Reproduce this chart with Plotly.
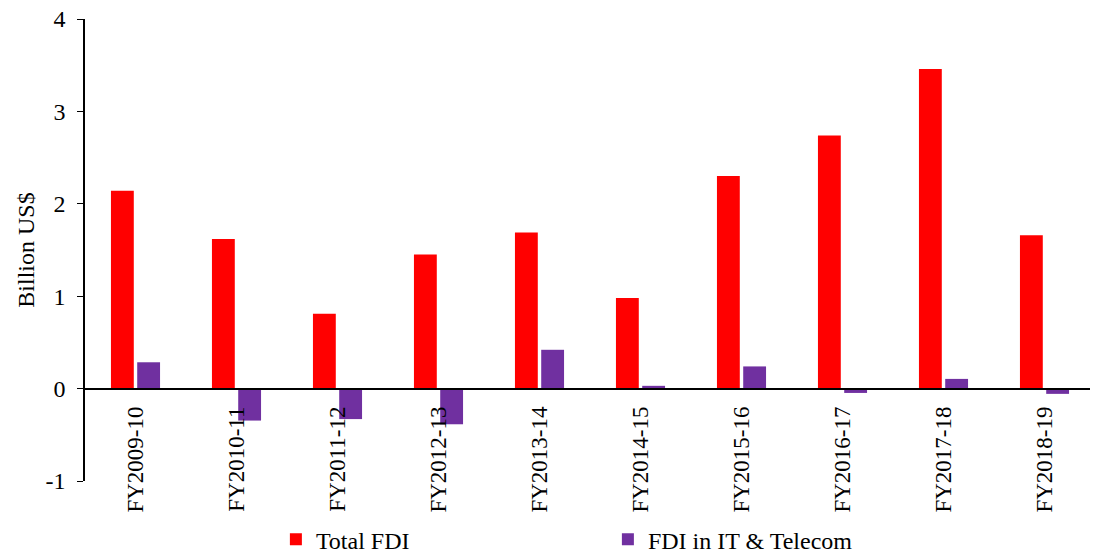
import plotly.graph_objects as go

years = ["FY2009-10", "FY2010-11", "FY2011-12", "FY2012-13", "FY2013-14",
         "FY2014-15", "FY2015-16", "FY2016-17", "FY2017-18", "FY2018-19"]
total_fdi = [2.14, 1.62, 0.81, 1.45, 1.69, 0.98, 2.30, 2.74, 3.46, 1.66]
it_telecom = [0.285, -0.346, -0.33, -0.386, 0.42, 0.03, 0.24, -0.047, 0.105, -0.057]
y_ticks = [-1, 0, 1, 2, 3, 4]
y_tick_text = ["-1", "0", "1", "2", "3", "4"]

font = "Liberation Serif, Times New Roman, serif"

fig = go.Figure()
fig.add_trace(go.Bar(x=years, y=total_fdi, name="Total FDI",
                     marker=dict(color="#FF0000", line=dict(width=0))))
fig.add_trace(go.Bar(x=years, y=it_telecom, name="FDI in IT & Telecom",
                     marker=dict(color="#7030A0", line=dict(width=0))))

# the page adds an 8px body margin, so the figure is drawn 8px smaller
fig.update_layout(
    width=1090, height=544,
    margin=dict(l=77, r=3, t=11, b=71, autoexpand=False),
    plot_bgcolor="white", paper_bgcolor="white",
    font=dict(family=font, size=24, color="black"),
    barmode="group", bargap=0.48, bargroupgap=0.13,
    showlegend=True,
    legend=dict(orientation="h", x=0.189, xanchor="left", y=-0.127, yanchor="middle",
                entrywidth=287, entrywidthmode="pixels",
                font=dict(size=24), itemclick=False),
)
fig.update_xaxes(
    anchor="free", position=0.2,
    showline=True, linecolor="black", linewidth=1.5,
    ticks="", tickangle=-90, showgrid=False, zeroline=False,
    tickfont=dict(size=23), ticklabelstandoff=8,
)
fig.update_yaxes(
    range=[-1, 4], tickvals=y_ticks, ticktext=y_tick_text,
    showline=True, linecolor="black", linewidth=1.5,
    ticks="outside", ticklen=6, tickcolor="black",
    showgrid=False, zeroline=False, ticklabeloverflow="allow",
    ticklabelstandoff=7,
    title=dict(text="Billion US$", font=dict(size=24), standoff=4),
    tickfont=dict(size=24),
)

fig.write_html("out.html")
